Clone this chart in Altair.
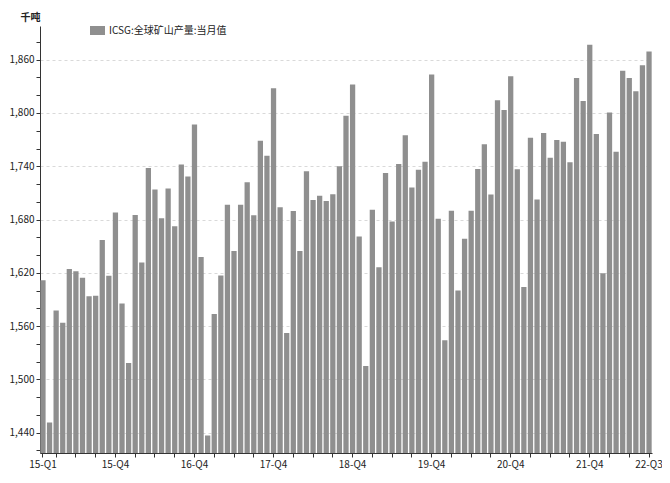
import altair as alt
import pandas as pd

months = [f"{y}-{m:02d}" for y in range(2015, 2023) for m in range(1, 13)][:93]

values = [
    1611.7, 1451.4, 1577.4, 1563.6, 1624.4, 1621.8, 1614.4, 1593.5, 1594.2, 1656.9, 1616.6, 1687.8,
    1585.3, 1518.5, 1685.2, 1631.5, 1738.0, 1713.9, 1681.5, 1715.0, 1672.5, 1742.0, 1728.5, 1787.0,
    1637.7, 1436.7, 1573.6, 1616.9, 1696.7, 1644.5, 1696.7, 1722.0, 1684.7, 1768.7, 1751.9, 1828.0,
    1693.7, 1552.3, 1689.6, 1644.5, 1734.4, 1701.9, 1706.8, 1700.8, 1708.6, 1740.0, 1797.0, 1832.1,
    1660.9, 1515.0, 1691.1, 1626.2, 1732.5, 1677.7, 1742.6, 1775.0, 1716.1, 1736.2, 1745.2, 1843.3,
    1681.0, 1544.1, 1690.0, 1600.1, 1658.3, 1690.0, 1737.0, 1764.9, 1708.2, 1814.3, 1803.3, 1841.4,
    1736.5, 1604.1, 1772.0, 1702.6, 1777.6, 1749.6, 1769.7, 1767.5, 1744.4, 1839.5, 1813.4, 1876.8,
    1776.4, 1619.4, 1800.7, 1756.3, 1847.7, 1839.5, 1824.6, 1853.7, 1869.3,
]

series_name = "ICSG:全球矿山产量:当月值"
unit_label = "千吨"

# x tick positions and labels
x_tick_values = ["2015-01"] + [m for m in months if m[5:] in ("03", "06", "09", "12")]
x_labels = {"2015-01": "15-Q1", "2022-09": "22-Q3"}
for y in range(2015, 2022):
    x_labels[f"{y}-12"] = f"{str(y)[2:]}-Q4"

y_tick_values = list(range(1420, 1881, 20))

label_expr = "''"
for k, v in reversed(list(x_labels.items())):
    label_expr = f"datum.value === '{k}' ? '{v}' : ({label_expr})"

df = pd.DataFrame({"month": months, "value": values, "series": series_name})

FONT = "Noto Sans CJK SC"

chart = (
    alt.Chart(df)
    .mark_bar(clip=True)
    .encode(
        x=alt.X(
            "month:O",
            sort=months,
            scale=alt.Scale(paddingInner=0.2, paddingOuter=0.05),
            axis=alt.Axis(
                title=None,
                values=x_tick_values,
                labelExpr=label_expr,
                labelAngle=0,
                labelOverlap=False,
                labelFontSize=10,
                labelColor="#222222",
                labelFont=FONT,
                labelPadding=2,
                tickSize=4,
                tickColor="#333333",
                domainColor="#333333",
                grid=False,
            ),
        ),
        y=alt.Y(
            "value:Q",
            scale=alt.Scale(domain=[1417, 1898], nice=False, zero=False),
            axis=alt.Axis(
                title=unit_label,
                titleAngle=0,
                titleAlign="center",
                titleBaseline="middle",
                titleX=-10,
                titleY=-9,
                titleFontSize=10,
                titleFont=FONT,
                titleFontWeight="bold",
                titleColor="#222222",
                values=y_tick_values,
                labelExpr="datum.value % 60 === 0 ? format(datum.value, ',') : ''",
                labelFontSize=10,
                labelColor="#222222",
                labelFont=FONT,
                labelPadding=2,
                tickSize=4,
                tickColor="#333333",
                domainColor="#333333",
                grid=True,
                gridColor="#d9d9d9",
                gridDash=[3, 3],
                gridOpacity={"condition": {"test": "datum.value % 60 === 0", "value": 1}, "value": 0},
            ),
        ),
        color=alt.Color(
            "series:N",
            scale=alt.Scale(range=["#8f8f8f"]),
            legend=alt.Legend(
                title=None,
                orient="none",
                legendX=50,
                legendY=-3,
                padding=0,
                symbolType="M-1,-0.6L1,-0.6L1,0.6L-1,0.6Z",
                symbolSize=225,
                symbolStrokeWidth=0,
                labelFontSize=10,
                labelFont=FONT,
                labelColor="#222222",
                labelOffset=4,
            ),
        ),
    )
    .properties(
        width=612,
        height=427,
        autosize=alt.AutoSizeParams(type="none"),
        padding={"left": 32, "top": 18, "right": 10, "bottom": 22},
    )
    .configure_view(strokeWidth=0)
)

chart.save("out.html", embed_options={"renderer": "svg", "actions": False})
